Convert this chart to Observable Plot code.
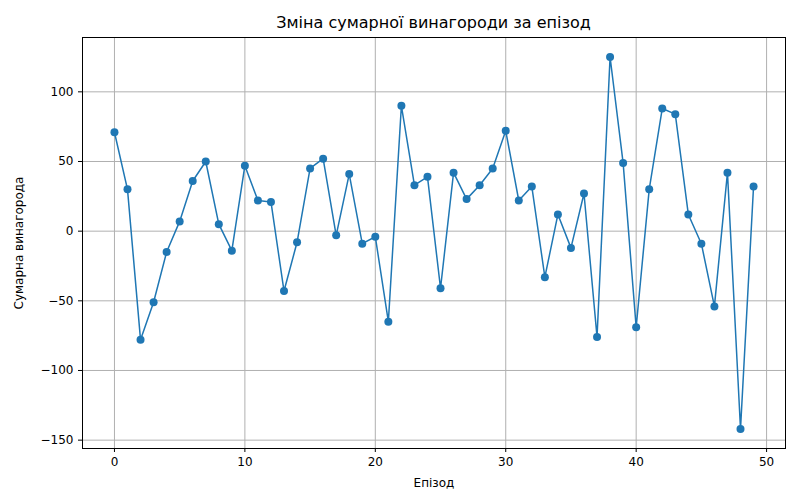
<!DOCTYPE html>
<html>
<head>
<meta charset="utf-8">
<script src="https://cdn.jsdelivr.net/npm/d3@7"></script>
<script src="https://cdn.jsdelivr.net/npm/@observablehq/plot@0.6"></script>
<style>
  body { margin: 0; font-family: "DejaVu Sans", sans-serif; background: white; }
  .title { height: 30px; line-height: 30px; padding-top: 8px; box-sizing: border-box; text-align: center; font-size: 16px; padding-left: 67px; }
</style>
</head>
<body>
<div class="title">Зміна сумарної винагороди за епізод</div>
<div id="chart"></div>
<script>
const rewards = [71, 30, -78, -51, -15, 7, 36, 50, 5, -14,
  47, 22, 21, -43, -8, 45, 52, -3, 41, -9,
  -4, -65, 90, 33, 39, -41, 42, 23, 33, 45,
  72, 22, 32, -33, 12, -12, 27, -76, 125, 49,
  -69, 30, 88, 84, 12, -9, -54, 42, -142, 32];
const episodes = rewards.map((_, i) => i);
const data = episodes.map(i => ({ episode: i, reward: rewards[i] }));

document.querySelector("#chart").append(
  Plot.plot({
    width: 800,
    height: 470,
    marginLeft: 82,
    marginRight: 15,
    marginTop: 7,
    marginBottom: 52,
    style: { fontFamily: "DejaVu Sans, sans-serif", fontSize: "12px", color: "black" },
    x: { domain: [-2.45, 51.45], ticks: [0, 10, 20, 30, 40, 50], label: "Епізод", labelAnchor: "center", labelArrow: "none", labelOffset: 38, tickSize: 4 },
    y: { domain: [-156, 139], ticks: [-150, -100, -50, 0, 50, 100], label: "Сумарна винагорода", labelAnchor: "center", labelArrow: "none", labelOffset: 68, tickSize: 4, tickFormat: d => String(d).replace("-", "−") },
    marks: [
      Plot.gridX([0, 10, 20, 30, 40, 50], { stroke: "#b0b0b0", strokeOpacity: 1 }),
      Plot.gridY([-150, -100, -50, 0, 50, 100], { stroke: "#b0b0b0", strokeOpacity: 1 }),
      Plot.frame({ stroke: "black" }),
      Plot.line(data, { x: "episode", y: "reward", stroke: "#1f77b4", strokeWidth: 1.5 }),
      Plot.dot(data, { x: "episode", y: "reward", fill: "#1f77b4", r: 4 })
    ]
  })
);
</script>
</body>
</html>
